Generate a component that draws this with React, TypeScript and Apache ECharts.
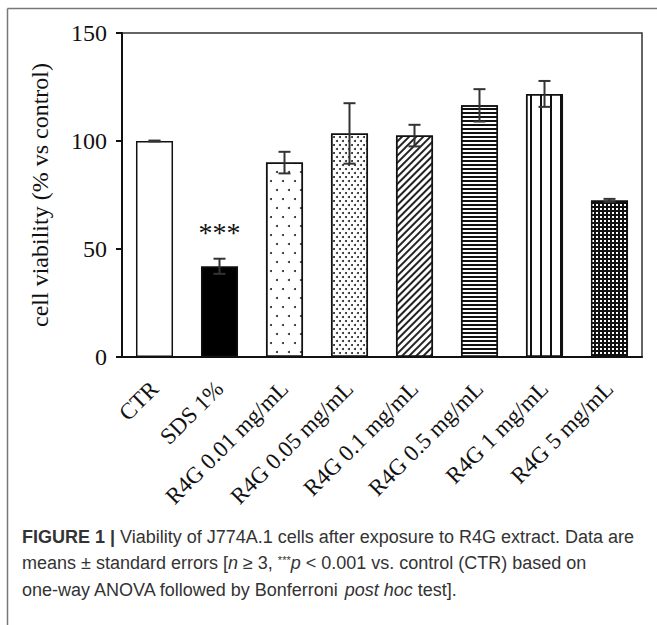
import React, { useEffect, useRef } from "react";
import * as echarts from "echarts";

const categories = [
  "CTR",
  "SDS 1%",
  "R4G 0.01 mg/mL",
  "R4G 0.05 mg/mL",
  "R4G 0.1 mg/mL",
  "R4G 0.5 mg/mL",
  "R4G 1 mg/mL",
  "R4G 5 mg/mL",
];
const means = [100, 42, 90, 103.5, 102.5, 116.5, 121.8, 72.5];
const errors = [0.2, 3.5, 5, 14, 5, 7.5, 6, 0.7];
const significance = ["", "***", "", "", "", "", "", ""];
const yTicks = [0, 50, 100, 150];

const SERIF = "Liberation Serif";
const SANS = "Liberation Sans";

const barStyles: any[] = [
  { color: "#ffffff", decal: "none" },
  { color: "#000000", decal: "none" },
  {
    color: "#ffffff",
    decal: {
      symbol: "circle",
      symbolSize: 1,
      color: "#222",
      dashArrayX: [[2, 10], [0, 6, 2, 4]],
      dashArrayY: [2, 7],
    },
  },
  {
    color: "#ffffff",
    decal: {
      symbol: "circle",
      symbolSize: 1,
      color: "#222",
      dashArrayX: [[2, 4], [0, 3, 2, 1]],
      dashArrayY: [2, 1.5],
    },
  },
  {
    color: "#ffffff",
    decal: {
      symbol: "rect",
      symbolSize: 1,
      color: "#222",
      dashArrayX: [1, 0],
      dashArrayY: [1.3, 2.5],
      rotation: -Math.PI / 4,
    },
  },
  {
    color: "#ffffff",
    decal: {
      symbol: "rect",
      symbolSize: 1,
      color: "#111",
      dashArrayX: [1, 0],
      dashArrayY: [2, 1.5],
    },
  },
  {
    color: "#ffffff",
    decal: {
      symbol: "rect",
      symbolSize: 1,
      color: "#111",
      dashArrayX: [1.5, 7.5],
      dashArrayY: [1, 0],
    },
  },
  {
    color: "#111111",
    decal: {
      symbol: "rect",
      symbolSize: 1,
      color: "#ffffff",
      dashArrayX: [2, 1.5],
      dashArrayY: [2, 1.5],
    },
  },
];

export default function App() {
  const ref = useRef<HTMLDivElement>(null);
  useEffect(() => {
    document.body.style.margin = "0";
    const chart = echarts.init(ref.current!, null, { renderer: "svg" });
    const option: any = {
      animation: false,
      aria: { enabled: true, decal: { show: true } },
      grid: {
        left: 122,
        top: 33,
        right: 15,
        bottom: 268,
        show: true,
        borderColor: "#333",
        borderWidth: 1.5,
        backgroundColor: "transparent",
      },
      xAxis: {
        type: "category",
        data: categories,
        axisLine: { lineStyle: { color: "#111", width: 2 } },
        axisTick: { show: false },
        axisLabel: {
          rotate: 45,
          interval: 0,
          margin: 28,
          fontFamily: SERIF,
          fontSize: 23,
          color: "#111",
        },
      },
      yAxis: {
        type: "value",
        min: yTicks[0],
        max: yTicks[yTicks.length - 1],
        interval: 50,
        name: "cell viability (% vs control)",
        nameLocation: "middle",
        nameGap: 70,
        nameTextStyle: { fontFamily: SERIF, fontSize: 24, color: "#111" },
        axisLine: { show: true, lineStyle: { color: "#111", width: 2 } },
        axisTick: { show: true, length: 6, lineStyle: { color: "#111", width: 2 } },
        axisLabel: { fontFamily: SERIF, fontSize: 24, color: "#111", margin: 15 },
        splitLine: { show: false },
      },
      series: [
        {
          type: "bar",
          barWidth: "57%",
          data: means.map((m, i) => ({
            value: m,
            itemStyle: {
              color: barStyles[i].color,
              decal: barStyles[i].decal,
              borderColor: "#111",
              borderWidth: 1.5,
            },
          })),
        },
        {
          type: "custom",
          data: means.map((m, i) => [i, m, errors[i]]),
          z: 10,
          renderItem: (params: any, api: any) => {
            const i = api.value(0);
            const m = api.value(1);
            const e = api.value(2);
            const top = api.coord([i, m + e]);
            const bot = api.coord([i, m - e]);
            const half = 6;
            const st = { stroke: "#333", lineWidth: 2 };
            const children: any[] = [
              { type: "line", shape: { x1: top[0], y1: top[1], x2: bot[0], y2: bot[1] }, style: st },
              { type: "line", shape: { x1: top[0] - half, y1: top[1], x2: top[0] + half, y2: top[1] }, style: st },
              { type: "line", shape: { x1: bot[0] - half, y1: bot[1], x2: bot[0] + half, y2: bot[1] }, style: st },
            ];
            const sig = significance[params.dataIndex];
            if (sig) {
              children.push({
                type: "text",
                style: {
                  text: sig,
                  x: top[0],
                  y: top[1] - 12,
                  align: "center",
                  verticalAlign: "bottom",
                  fontFamily: SERIF,
                  fontSize: 28,
                  fill: "#111",
                },
              });
            }
            return { type: "group", children };
          },
        },
      ],
      graphic: [
        {
          type: "line",
          shape: { x1: 7.5, y1: 8.5, x2: 657, y2: 8.5 },
          style: { stroke: "#777", lineWidth: 1.5 },
        },
        {
          type: "line",
          shape: { x1: 7.5, y1: 8.5, x2: 7.5, y2: 625 },
          style: { stroke: "#777", lineWidth: 1.5 },
        },
        {
          type: "text",
          x: 22,
          y: 537,
          style: {
            text: "{b|FIGURE 1 |} Viability of J774A.1 cells after exposure to R4G extract. Data are",
            fontFamily: SANS,
            fontSize: 18,
            fill: "#333",
            verticalAlign: "middle",
            rich: { b: { fontWeight: "bold", fontFamily: SANS, fontSize: 18, fill: "#333" } },
          },
        },
        {
          type: "text",
          x: 22,
          y: 563,
          style: {
            text: "means ± standard errors [{i|n} ≥ 3, {s|***}{i|p} < 0.001 vs. control (CTR) based on",
            fontFamily: SANS,
            fontSize: 18,
            fill: "#333",
            verticalAlign: "middle",
            rich: {
              i: { fontStyle: "italic", fontFamily: SANS, fontSize: 18, fill: "#333" },
              s: { fontFamily: SANS, fontSize: 11, fill: "#333", verticalAlign: "top" },
            },
          },
        },
        {
          type: "text",
          x: 22,
          y: 590,
          style: {
            text: "one-way ANOVA followed by Bonferroni {i|post hoc} test].",
            fontFamily: SANS,
            fontSize: 18,
            fill: "#333",
            verticalAlign: "middle",
            rich: { i: { fontStyle: "italic", fontFamily: SANS, fontSize: 18, fill: "#333" } },
          },
        },
      ],
    };
    chart.setOption(option);
    return () => chart.dispose();
  }, []);
  return <div ref={ref} style={{ width: 657, height: 625 }} />;
}
